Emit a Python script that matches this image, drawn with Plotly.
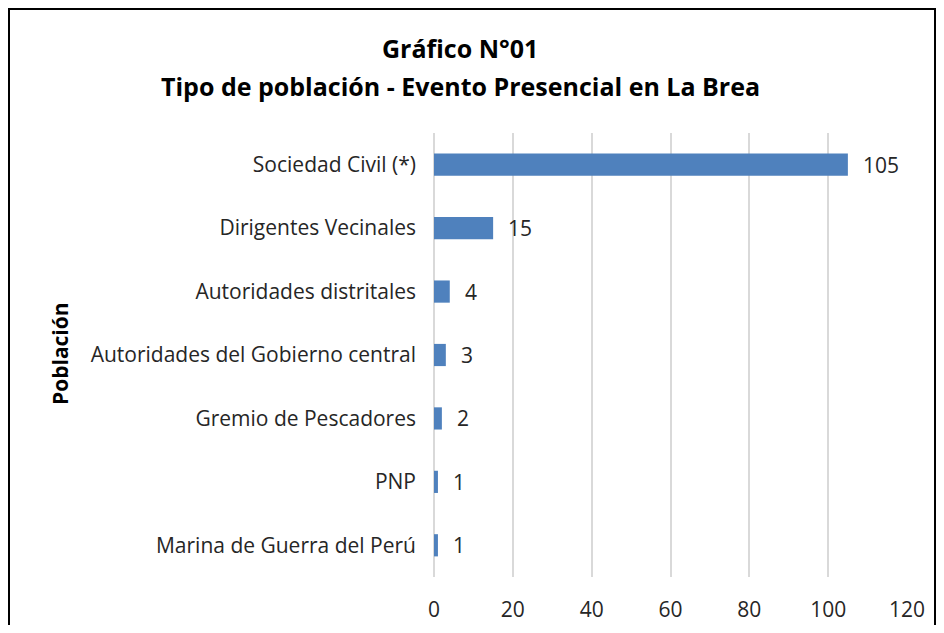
import plotly.graph_objects as go

# Data (top to bottom)
categorias = [
    "Sociedad Civil (*)",
    "Dirigentes Vecinales",
    "Autoridades distritales",
    "Autoridades del Gobierno central",
    "Gremio de Pescadores",
    "PNP",
    "Marina de Guerra del Perú",
]
cantidades = [105, 15, 4, 3, 2, 1, 1]
x_ticks = [0, 20, 40, 60, 80, 100, 120]

FONT = "Open Sans"
TXT = "#262626"

# the page body adds an 8px margin, so the figure is 16px smaller than the window
W, H = 928, 617
L, R, T, B = 426, 29, 125, 48
PW, PH = W - L - R, H - T - B


def px_x(px):
    return (px - L) / PW


def px_y(py):
    return (H - B - py) / PH


fig = go.Figure()

fig.add_trace(go.Bar(
    y=categorias,
    x=cantidades,
    orientation="h",
    marker=dict(color="#4F81BD", line=dict(width=0)),
    width=0.35,
    hoverinfo="x+y",
))

# data labels, placed just right of each bar end
for cat, val in zip(categorias, cantidades):
    fig.add_annotation(
        x=val, y=cat, xref="x", yref="y",
        text=str(val), showarrow=False,
        xanchor="left", yanchor="middle", xshift=13,
        font=dict(family=FONT, size=21, color=TXT),
    )

fig.update_layout(
    width=W,
    height=H,
    margin=dict(l=L, r=R, t=T, b=B),
    paper_bgcolor="white",
    plot_bgcolor="white",
    showlegend=False,
    font=dict(family=FONT, size=21, color=TXT),
    xaxis=dict(
        range=[0, 120],
        tickvals=x_ticks,
        showgrid=True,
        gridcolor="#D9D9D9",
        gridwidth=1.5,
        zeroline=True,
        zerolinecolor="#D9D9D9",
        zerolinewidth=1.5,
        showline=False,
        ticks="",
        ticklabelstandoff=18,
        tickfont=dict(family=FONT, size=21, color=TXT),
        automargin=False,
        fixedrange=True,
    ),
    yaxis=dict(
        categoryorder="array",
        categoryarray=categorias[::-1],
        showgrid=False,
        zeroline=False,
        showline=False,
        ticks="",
        ticklabelstandoff=17,
        tickfont=dict(family=FONT, size=21, color=TXT),
        automargin=False,
        fixedrange=True,
    ),
)

# Title (two lines, bold)
fig.add_annotation(
    text="<b>Gráfico N°01</b>",
    xref="paper", yref="paper",
    x=px_x(452), y=px_y(40),
    showarrow=False, xanchor="center", yanchor="middle",
    font=dict(family=FONT, size=25, color="#000000"),
)
fig.add_annotation(
    text="<b>Tipo de población - Evento Presencial en La Brea</b>",
    xref="paper", yref="paper",
    x=px_x(452), y=px_y(78),
    showarrow=False, xanchor="center", yanchor="middle",
    font=dict(family=FONT, size=25, color="#000000"),
)

# Axis title
fig.add_annotation(
    text="<b>Población</b>",
    xref="paper", yref="paper",
    x=px_x(52), y=px_y(346),
    showarrow=False, textangle=-90, xanchor="center", yanchor="middle",
    font=dict(family=FONT, size=21, color="#000000"),
)

# Chart border (bottom edge falls outside the picture)
fig.add_shape(
    type="rect", xref="paper", yref="paper",
    x0=px_x(1), x1=px_x(927),
    y0=px_y(H + 40), y1=px_y(1),
    line=dict(color="#000000", width=2),
    fillcolor="rgba(0,0,0,0)",
    layer="above",
)

fig.write_html("out.html")
